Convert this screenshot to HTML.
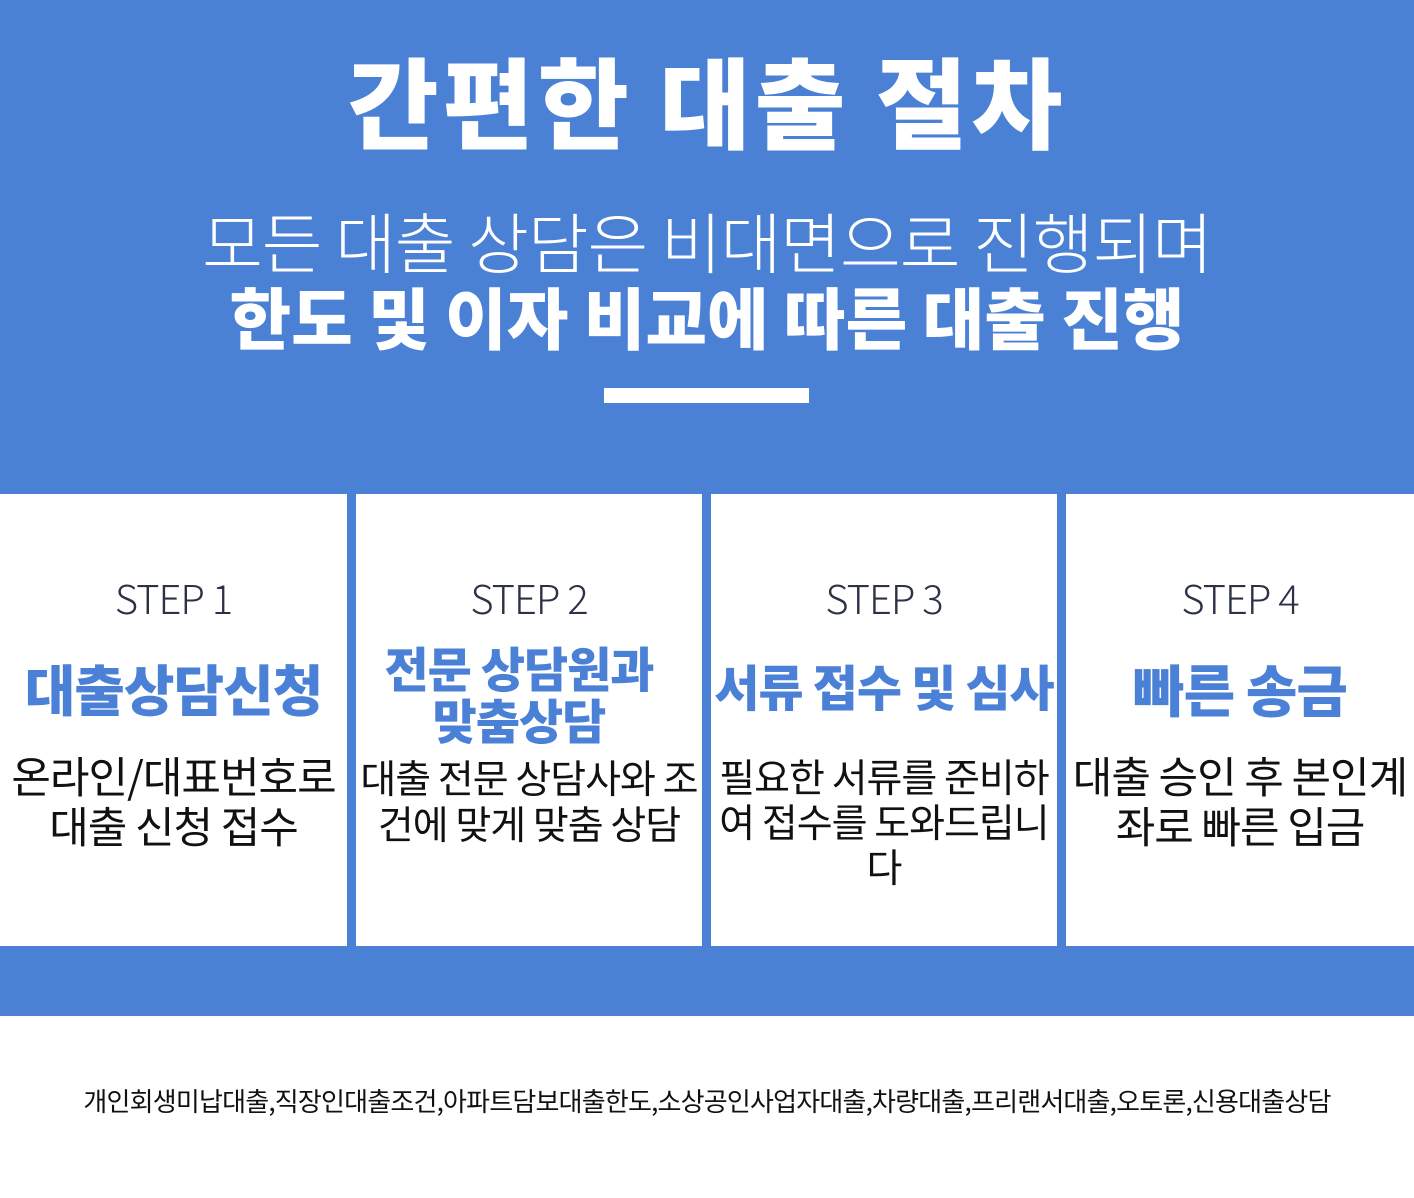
<!DOCTYPE html><html><head><meta charset="utf-8"><style>
body{margin:0;width:1414px;height:1198px;position:relative;background:#fff;font-family:"Liberation Sans","Noto Sans CJK KR",sans-serif;overflow:hidden}
.a{position:absolute;left:0;width:1414px;text-align:center;white-space:nowrap}
.blue{position:absolute;left:0;top:0;width:1414px;height:1016px;background:#4a81d4}
.col{position:absolute;top:494px;height:452px;background:#fff;text-align:center}
.st{position:absolute;top:74px;left:0;right:0;font-size:40px;font-weight:300;color:#2b3245;letter-spacing:-1px;font-family:"Noto Sans CJK KR",sans-serif}
.h{position:absolute;left:-20px;right:-20px;font-size:48px;font-weight:900;color:#4a80d6;line-height:52px;font-family:"Noto Sans CJK KR",sans-serif;letter-spacing:-1px;white-space:nowrap}
.d{position:absolute;top:260px;left:-20px;right:-20px;font-size:39px;line-height:46px;color:#111;font-family:"Noto Sans CJK KR",sans-serif;letter-spacing:-1px;white-space:nowrap}
</style></head><body>
<div class="blue"></div>
<div class="a" style="top:36px;font-size:99px;font-weight:900;color:#fff;line-height:124px;letter-spacing:4px;font-family:'Noto Sans CJK KR',sans-serif">간편한 대출 절차</div>
<div class="a" style="top:200px;font-size:66px;font-weight:300;color:#fff;line-height:80px;font-family:'Noto Sans CJK KR',sans-serif;letter-spacing:-1px">모든 대출 상담은 비대면으로 진행되며</div>
<div class="a" style="top:276px;font-size:67px;font-weight:900;color:#fff;line-height:80px;font-family:'Noto Sans CJK KR',sans-serif;letter-spacing:0">한도 및 이자 비교에 따른 대출 진행</div>
<div style="position:absolute;left:604px;top:388px;width:205px;height:15px;background:#fff"></div>

<div class="col" style="left:0;width:347px"><div class="st">STEP 1</div><div class="h" style="top:162px;font-size:55px;line-height:62px">대출상담신청</div><div class="d" style="top:256px;font-size:43px;line-height:50px">온라인/대표번호로<br>대출 신청 접수</div></div>
<div class="col" style="left:356px;width:346px"><div class="st">STEP 2</div><div class="h" style="top:146px;left:-30px;right:-10px">전문 상담원과<br>맞춤상담</div><div class="d">대출 전문 상담사와 조<br>건에 맞게 맞춤 상담</div></div>
<div class="col" style="left:711px;width:346px"><div class="st">STEP 3</div><div class="h" style="top:166px;font-size:49px">서류 접수 및 심사</div><div class="d" style="line-height:45px">필요한 서류를 준비하<br>여 접수를 도와드립니<br>다</div></div>
<div class="col" style="left:1066px;width:348px"><div class="st">STEP 4</div><div class="h" style="top:164px;font-size:56px;line-height:62px">빠른 송금</div><div class="d" style="top:256px;font-size:43px;line-height:50px">대출 승인 후 본인계<br>좌로 빠른 입금</div></div>
<div class="a" style="top:1082px;font-size:26px;color:#111;letter-spacing:-0.8px;font-family:'Noto Sans CJK KR',sans-serif">개인회생미납대출,직장인대출조건,아파트담보대출한도,소상공인사업자대출,차량대출,프리랜서대출,오토론,신용대출상담</div>
</body></html>
